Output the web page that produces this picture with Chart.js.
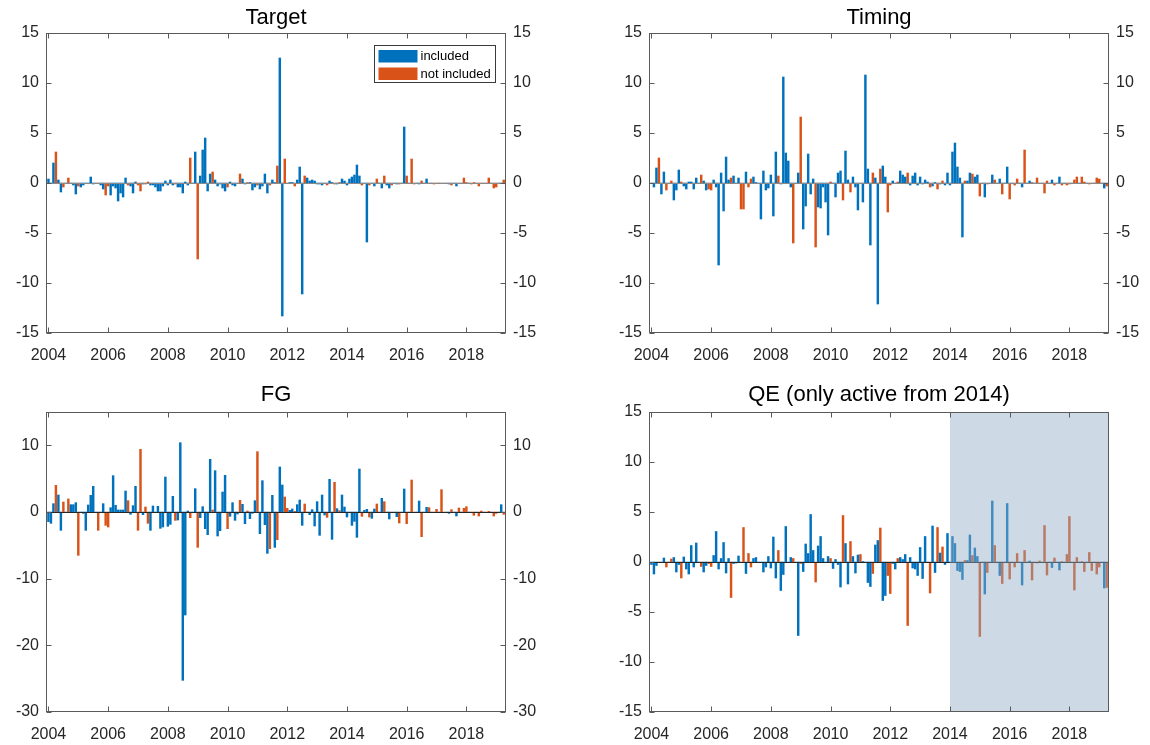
<!DOCTYPE html>
<html>
<head>
<meta charset="utf-8">
<script src="https://cdn.jsdelivr.net/npm/chart.js@4.4.1/dist/chart.umd.min.js"></script>
<style>
html,body{margin:0;padding:0;background:#fff;}
body{width:1150px;height:745px;position:relative;overflow:hidden;}
canvas{position:absolute;}
</style>
</head>
<body>
<canvas id="c1" width="560" height="372" style="left:0;top:0"></canvas>
<canvas id="c2" width="590" height="372" style="left:560px;top:0"></canvas>
<canvas id="c3" width="560" height="373" style="left:0;top:372px"></canvas>
<canvas id="c4" width="590" height="373" style="left:560px;top:372px"></canvas>
<script>
// ---------------- data ----------------
const startYear = 2004;          // first month: Jan 2004
const monthCount = 184;          // Jan 2004 .. Apr 2019
const xTickYears = [2004, 2006, 2008, 2010, 2012, 2014, 2016, 2018];
const yTicksStd = [-15, -10, -5, 0, 5, 10, 15];
const yTicksFG = [-30, -20, -10, 0, 10];
const seriesNames = ['included', 'not included'];
const qeActiveFrom = 2014;

// months (index from Jan 2004) whose surprise is "not included"
const notIncludedMonths = [3,6,8,12,20,23,24,32,36,37,39,40,51,57,60,66,72,77,80,84,89,92,95,96,99,103,112,115,117,126,129,132,135,138,141,144,146,147,150,153,155,156,158,159,162,165,167,168,170,171,173,174,176,177,179,180,183];

const targetValues = [
 0.4, 0, 2.0, 3.1, 0.3, -0.9, -0.4, 0, 0.5, 0, -0.2, -1.1,
 -0.3, -0.4, -0.2, 0, 0, 0.6, -0.1, 0, -0.05, -0.2, -0.6, -1.2,
 -0.3, -1.2, -0.3, -0.5, -1.8, -1.0, -1.4, 0.5, -0.2, -0.3, -1.0, 0.1,
 -0.2, -0.8, -0.1, -0.1, 0.1, -0.2, -0.2, -0.4, -0.8, -0.8, -0.3, 0.2,
 -0.2, 0.3, -0.2, -0.1, -0.4, -0.4, -1.0, 0.1, -0.2, 2.5, 0, 3.1,
 -7.6, 0.7, 3.3, 4.5, -0.8, 0.9, 1.1, 0.3, -0.3, -0.1, -0.5, -0.8,
 -0.4, 0.1, -0.2, -0.3, 0, 0.9, 0.4, -0.1, 0.05, 0.05, -0.7, -0.4,
 -0.2, -0.6, -0.3, 0.9, -1.0, -0.2, 0.3, 0.05, 1.7, 12.5, -13.3, 2.4,
 0, 0.05, 0.05, -0.3, 0.3, 1.6, -11.1, 0.7, 0.5, 0.2, 0.3, 0.2,
 -0.1, -0.1, -0.2, 0, -0.2, 0.2, 0.05, -0.1, -0.1, 0.05, 0.4, 0.2,
 -0.2, 0.4, 0.6, 0.8, 1.8, 0.7, -0.2, 0, -5.9, -0.2, 0, -0.3,
 0.4, 0, -0.5, 0.7, -0.2, -0.5, -0.2, 0, -0.1, -0.1, 0, 5.6,
 0.7, 0, 2.4, -0.1, 0, -0.1, 0.2, 0, 0.4, 0, 0, -0.1,
 0, 0, 0, 0, 0, -0.1, -0.2, 0, -0.3, 0, 0, 0.5,
 0.05, 0, -0.1, 0.05, 0, -0.3, 0, 0, 0, 0.5, 0, -0.5,
 -0.4, 0, 0, 0.3
];

const timingValues = [
 0, -0.4, 1.5, 2.5, -1.1, 1.1, -0.7, 0, 0.2, -1.7, -0.7, 1.3,
 0.1, -0.3, -0.6, 0.1, 0.1, -0.6, 0.5, 0, 0.8, 0.2, -0.7, -0.6,
 -0.7, 0.3, -0.4, -8.2, 1.0, -2.8, 2.6, 0.3, 0.5, 0.7, 0, 0.5,
 -2.6, -2.6, 1.1, -0.4, 0.4, 0.6, 0.05, 0, -3.6, 1.2, -0.7, -0.5,
 0.8, -3.3, 3.1, 0.7, -0.1, 10.6, 3.0, 2.2, -0.4, -6.0, 0, 1.0,
 6.6, -4.6, -2.3, 2.9, -1.1, 0.4, -6.4, -2.4, -2.5, -0.4, -1.9, -5.2,
 0.1, 0, -1.4, 1.0, 1.2, -1.7, 3.2, 0.3, -0.9, 0.6, -0.4, -2.7,
 0, -1.9, 10.8, 1.4, -6.2, 1.0, 0.5, -12.1, 1.4, 1.7, 0.6, -2.9,
 -0.2, 0.2, 0, 0.1, 1.2, 0.8, 0.6, 1.0, -0.2, 0.7, 1.0, -0.2,
 0.6, -0.1, 0.3, 0.1, -0.4, -0.3, 0.05, -0.6, -0.1, 0.2, -0.2, 1.0,
 -0.2, 3.1, 4.0, 1.6, 0.5, -5.4, 0.2, 0.2, 1.0, 0.9, 0.6, 0.8,
 -1.3, 0, -1.4, -0.1, 0, 0.8, 0.3, 0, 0.4, -1.1, 0, 1.6,
 -1.6, 0, -0.2, 0.4, 0, -0.4, 3.3, 0, 0.2, 0.05, 0, 0.5,
 0, 0, -1.0, 0.2, 0, 0.3, -0.2, 0, 0.6, -0.2, 0, -0.2,
 -0.1, 0, 0.3, 0.6, 0, 0.6, 0.1, 0, -0.1, 0, 0, 0.5,
 0.4, 0, -0.5, -0.3
];

const fgValues = [
 -1.45, -1.7, 1.25, 4.0, 2.55, -2.75, 1.5, 0, 1.95, 1.1, 1.1, 1.4,
 -6.5, 0, -0.2, -2.75, 1.05, 2.5, 3.85, 0, -2.75, -0.1, 1.25, -2.0,
 -2.25, 0.65, 5.45, 1.0, 0.3, 0.3, 0.3, 3.15, 1.7, -0.35, 0.95, 3.85,
 -2.75, 9.4, -0.4, 0.75, -1.7, -2.75, 0.9, 0, 0.85, -2.45, -2.25, 5.25,
 -2.15, -1.85, 2.35, -1.25, -1.2, 10.4, -25.25, -15.45, 0.15, -0.85, 0, 3.5,
 -5.3, -0.85, 0.8, -2.5, -3.4, 7.9, 0.3, 6.2, -3.6, -2.8, 3.0, 5.5,
 -2.5, -0.65, 1.4, -1.25, -0.3, 1.75, 1.15, -1.75, 0.15, -1.0, -0.2, 1.7,
 9.05, -3.25, 4.7, -1.9, -6.2, -5.5, 2.5, -5.3, -4.15, 6.75, 4.05, 2.25,
 0.55, 0.25, 0.45, 0.1, 1.1, 1.8, -2.0, 1.2, 0, -0.4, 0.35, -2.1,
 1.55, -3.5, 2.55, -0.45, -0.8, 4.9, -4.1, 4.45, 0.5, 0.2, 2.55, 0.75,
 -0.75, 0, -2.0, -1.4, -3.8, 6.45, -0.65, 0.25, 0.4, -0.75, -0.95, 0.45,
 1.2, 0, 2.05, 1.55, 0, -1.05, 0, 0, -0.7, -1.65, 0, 3.45,
 -1.75, 0, 4.8, 0, 0, 1.65, -3.7, 0, 0.7, 0.65, 0, 0,
 0.4, 0, 3.35, 0, 0, -0.2, 0.35, 0, -0.6, 0.6, 0, 0.55,
 0.8, 0, 0, -0.5, 0, -0.6, 0.15, 0, 0, 0.1, 0, -0.6,
 -0.2, 0, 1.1, -0.35
];

const qeValues = [
 -0.25, -1.2, -0.35, 0, 0, 0.4, -0.5, 0, 0.3, 0.45, -1.0, -0.25,
 -1.6, 0.5, -0.7, -1.2, 1.65, -0.5, 1.9, 0, -0.45, -1.0, -0.35, -0.15,
 -0.45, 0.65, 3.05, -0.7, 0.35, 1.95, -1.1, 0.35, -3.55, -0.15, -0.1, 0.6,
 0, 3.45, -1.15, 0.85, -0.5, 0.35, 0.45, 0, 0, -1.0, -0.5, 0.55,
 -0.6, 2.5, -1.6, 1.15, -2.85, -1.25, 3.55, 0, 0.45, 0.35, 0, -7.35,
 -0.15, -0.95, 1.8, 0.85, 4.75, 1.15, -2.0, 1.6, 2.55, 0.35, 0, 0.55,
 0.35, -0.65, 0.25, -0.25, -2.5, 4.65, 1.85, -2.2, 2.05, 0.55, -1.1, 0.7,
 0.75, 0.05, 0, -2.05, -2.45, -1.15, 1.7, 2.15, 3.4, -3.85, -3.35, -1.35,
 -3.15, -0.15, -0.7, 0.35, 0.45, 0.25, 0.75, -6.35, 0.45, -0.6, -0.7, -1.35,
 1.45, -1.65, 2.55, -0.05, -3.1, 3.6, -1.05, 3.45, 0.9, 1.5, -0.25, 2.85,
 0, 2.55, 1.85, -0.85, -0.95, -1.75, 0.15, 0.15, 2.7, 0.65, 1.4, 0.55,
 -7.45, 0, -3.2, -1.05, 0, 6.1, 1.65, 0, -1.35, -2.15, 0, 5.85,
 -1.7, 0, -0.5, 0.85, 0, -2.3, 1.15, 0, 0.1, -1.8, 0, -0.1,
 0.1, 0, 3.65, -1.3, 0, -0.55, 0.4, 0, -0.8, 0.05, 0, 0.75,
 4.55, 0, -2.8, 0.45, 0, 0.05, -0.95, 0, 0.95, -0.85, 0, -1.2,
 -0.5, 0, -2.6, -2.55
];

// ---------------- chart setup ----------------
const monthX = Array.from({length: monthCount}, (_, i) => startYear + i / 12);
const xMin = 2003.918, xMax = 2019.327;
const BLUE = '#0072BD', ORANGE = '#D95319';
const FONT = '"Liberation Sans", Arial, Helvetica, sans-serif';

Chart.defaults.font.family = FONT;
Chart.defaults.color = '#262626';

function framePlugin(o) {
  return {
    id: 'frame',
    afterDatasetsDraw(chart) {
      const {ctx, chartArea: a, scales} = chart;
      const xs = scales.x, ys = scales.y;
      ctx.save();
      const L = Math.round(a.left) + 0.5, R = Math.round(a.right) - 0.5;
      const T = Math.round(a.top) + 0.5, B = Math.round(a.bottom) - 0.5;
      // bar baseline
      const y0 = Math.round(ys.getPixelForValue(0)) + 0.5;
      ctx.lineWidth = 1;
      ctx.strokeStyle = o.baseColor;
      ctx.beginPath(); ctx.moveTo(L, y0); ctx.lineTo(R, y0); ctx.stroke();
      // shaded region
      if (o.shadeFrom != null) {
        const sx = xs.getPixelForValue(o.shadeFrom);
        ctx.fillStyle = 'rgba(144,171,195,0.45)';
        ctx.fillRect(sx, a.top, a.right - sx, a.bottom - a.top);
      }
      // box
      ctx.strokeStyle = '#5a5a5a';
      ctx.strokeRect(L, T, R - L, B - T);
      // tick marks (inward)
      const tl = 5;
      ctx.beginPath();
      xs.ticks.forEach(t => {
        const x = Math.round(xs.getPixelForValue(t.value)) + 0.5;
        ctx.moveTo(x, B); ctx.lineTo(x, B - tl);
        ctx.moveTo(x, T); ctx.lineTo(x, T + tl);
      });
      ys.ticks.forEach(t => {
        const y = Math.round(ys.getPixelForValue(t.value)) + 0.5;
        ctx.moveTo(L, y); ctx.lineTo(L + tl, y);
        if (o.rightTicks) { ctx.moveTo(R, y); ctx.lineTo(R - tl, y); }
      });
      ctx.stroke();
      // legend
      if (o.legend) {
        const w = 121, h = 37;
        const lx = Math.round(a.right - 132) + 0.5, ly = Math.round(a.top + 12) + 0.5;
        ctx.fillStyle = '#fff';
        ctx.fillRect(lx, ly, w, h);
        ctx.strokeStyle = '#3a3a3a';
        ctx.strokeRect(lx, ly, w, h);
        const cols = [BLUE, ORANGE];
        ctx.font = '13px ' + FONT;
        ctx.textBaseline = 'middle';
        ctx.textAlign = 'left';
        seriesNames.forEach((name, k) => {
          const cy = ly + 10.5 + k * 17.5;
          ctx.fillStyle = cols[k];
          ctx.fillRect(lx + 4, cy - 6, 39, 12.5);
          ctx.fillStyle = '#000';
          ctx.fillText(name, lx + 46, cy + 0.5);
        });
      }
      ctx.restore();
    }
  };
}

function yAxis(c, pos, width) {
  return {
    type: 'linear', position: pos, min: c.yMin, max: c.yMax,
    grid: {display: false, drawTicks: false}, border: {display: false},
    afterBuildTicks: s => { s.ticks = c.yTicks.map(v => ({value: v})); },
    ticks: {callback: v => String(v), padding: 7, font: {size: 16}, color: '#262626'},
    afterFit: s => { s.width = width; }
  };
}

function makeChart(id, c) {
  const inc = [], exc = [];
  c.values.forEach((v, i) => {
    const p = {x: monthX[i], y: v};
    (notIncludedMonths.includes(i) ? exc : inc).push(p);
  });
  const scales = {
    x: {
      type: 'linear', min: xMin, max: xMax, offset: false,
      grid: {display: false, drawTicks: false, offset: false}, border: {display: false},
      afterBuildTicks: s => { s.ticks = xTickYears.map(v => ({value: v})); },
      ticks: {callback: v => String(v), padding: 13, maxRotation: 0, autoSkip: false, font: {size: 16}, color: '#262626'},
      afterFit: s => { s.height = c.xH; }
    },
    y: yAxis(c, 'left', c.leftW)
  };
  if (c.rightW) scales.y2 = yAxis(c, 'right', c.rightW);
  return new Chart(document.getElementById(id), {
    type: 'bar',
    data: {
      datasets: [
        {label: seriesNames[0], data: inc, backgroundColor: BLUE, borderWidth: 0, barThickness: 1.8, grouped: false},
        {label: seriesNames[1], data: exc, backgroundColor: ORANGE, borderWidth: 0, barThickness: 1.8, grouped: false}
      ]
    },
    options: {
      responsive: false, animation: false, events: [],
      layout: {padding: {left: 0, right: c.padRight || 0, top: 0, bottom: 0}},
      scales,
      plugins: {
        legend: {display: false},
        tooltip: {enabled: false},
        title: {
          display: true, text: c.title, fullSize: false, color: '#000',
          font: {size: 22, weight: 'normal', lineHeight: 1.2},
          padding: c.titlePad
        }
      }
    },
    plugins: [framePlugin({baseColor: c.baseColor, rightTicks: !!c.rightW, shadeFrom: c.shadeFrom, legend: c.legend})]
  });
}

makeChart('c1', {title: 'Target', values: targetValues, yMin: -15, yMax: 15, yTicks: yTicksStd,
  leftW: 46, rightW: 54, xH: 39, titlePad: {top: 5, bottom: 1.6}, baseColor: '#8a8a8a', legend: true});
makeChart('c2', {title: 'Timing', values: timingValues, yMin: -15, yMax: 15, yTicks: yTicksStd,
  leftW: 89, rightW: 41, xH: 39, titlePad: {top: 5, bottom: 1.6}, baseColor: '#8a8a8a'});
makeChart('c3', {title: 'FG', values: fgValues, yMin: -30, yMax: 15, yTicks: yTicksFG,
  leftW: 46, rightW: 54, xH: 33, titlePad: {top: 9.8, bottom: 3.8}, baseColor: '#262626'});
makeChart('c4', {title: 'QE (only active from 2014)', values: qeValues, yMin: -15, yMax: 15, yTicks: yTicksStd,
  leftW: 89, padRight: 41, xH: 33, titlePad: {top: 9.8, bottom: 3.8}, baseColor: '#262626', shadeFrom: qeActiveFrom});
</script>
</body>
</html>
